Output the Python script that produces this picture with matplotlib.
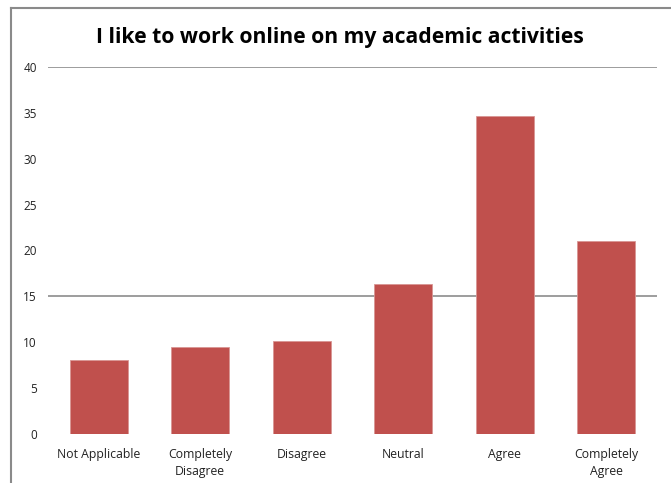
import matplotlib.pyplot as plt
from matplotlib.lines import Line2D

# data
categories = ['Not Applicable', 'Completely\nDisagree', 'Disagree', 'Neutral', 'Agree', 'Completely\nAgree']
values = [8.1, 9.5, 10.1, 16.3, 34.6, 21.0]
yticks = [0, 5, 10, 15, 20, 25, 30, 35, 40]
grid_at = [15, 40]

plt.rcParams['font.family'] = ['Open Sans', 'DejaVu Sans']

fig = plt.figure(figsize=(6.71, 4.83), dpi=100)
ax = fig.add_axes([0.0715, 0.1014, 0.9075, 0.76])

x = range(len(categories))
ax.bar(x, values, width=0.57, color='#c0504d', edgecolor='#d99694', linewidth=0.6, zorder=3)
for g in grid_at:
    ax.axhline(g, color='#8c8c8c', linewidth=1.2, zorder=1)

ax.set_xlim(-0.5, len(categories) - 0.5)
ax.set_ylim(0, 40)
ax.set_yticks(yticks)
ax.set_xticks(list(x))
ax.set_xticklabels(categories, fontsize=8.8, linespacing=1.45, color='#222222')
ax.tick_params(axis='y', labelsize=8.5, length=0, pad=8, labelcolor='#222222')
ax.tick_params(axis='x', length=0, pad=10)
for s in ax.spines.values():
    s.set_visible(False)

fig.text(0.507, 0.923, 'I like to work online on my academic activities',
         ha='center', va='center', fontsize=15.2, fontweight='bold')

# chart border (left and top)
fig.add_artist(Line2D([0.0164, 0.0164], [0, 0.983], color='#8a8a8a', linewidth=1.5))
fig.add_artist(Line2D([0.0164, 1.0], [0.983, 0.983], color='#8a8a8a', linewidth=1.5))

plt.savefig('out.png', dpi=100)
